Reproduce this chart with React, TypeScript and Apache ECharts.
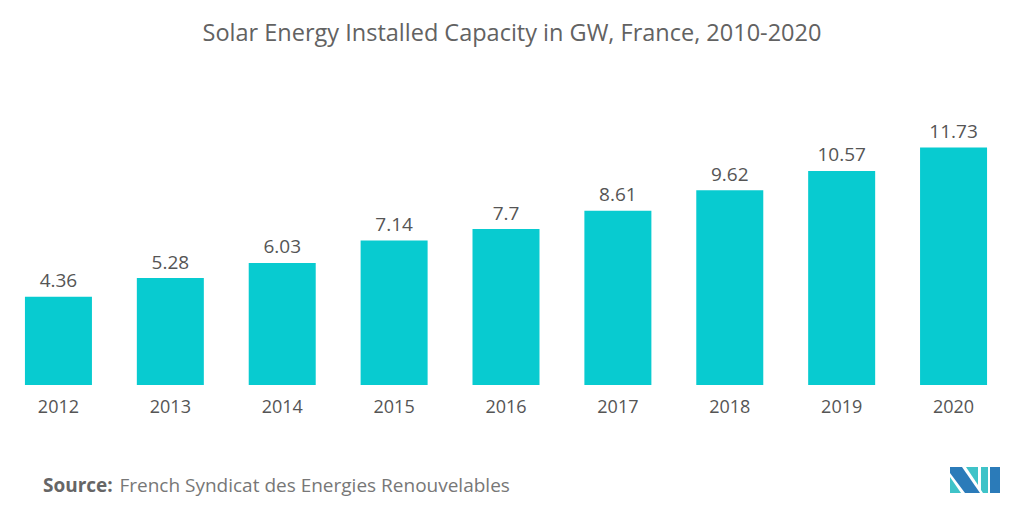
import React, { useEffect, useRef } from "react";
import * as echarts from "echarts";

const categories = ["2012", "2013", "2014", "2015", "2016", "2017", "2018", "2019", "2020"];
const capacityGW = [4.36, 5.28, 6.03, 7.14, 7.7, 8.61, 9.62, 10.57, 11.73];

const FONT = "'Open Sans', 'Noto Sans', sans-serif";

export default function App() {
  const ref = useRef<HTMLDivElement>(null);
  useEffect(() => {
    document.body.style.margin = "0";
    if (!ref.current) return;
    const chart = echarts.init(ref.current, undefined, { renderer: "svg" });
    chart.setOption({
      animation: false,
      backgroundColor: "#ffffff",
      title: {
        text: "Solar Energy Installed Capacity in GW, France, 2010-2020",
        left: "center",
        top: 15,
        textStyle: { color: "#626262", fontSize: 23.5, fontWeight: "normal", fontFamily: FONT },
      },
      grid: { left: 2.5, right: 14.5, top: 142, bottom: 131 },
      xAxis: {
        type: "category",
        data: categories,
        axisLine: { show: false },
        axisTick: { show: false },
        axisLabel: { color: "#555555", fontSize: 18, margin: 12, fontFamily: FONT },
      },
      yAxis: {
        type: "value",
        min: 0,
        max: 12,
        show: false,
        splitLine: { show: false },
      },
      series: [
        {
          type: "bar",
          data: capacityGW,
          barWidth: 67,
          itemStyle: { color: "#08CBD0" },
          label: {
            show: true,
            position: "top",
            distance: 7,
            color: "#555555",
            fontSize: 19,
            fontFamily: FONT,
          },
        },
      ],
      graphic: [
        {
          type: "text",
          left: 43,
          top: 475,
          style: {
            text: "{b|Source:}  {n|French Syndicat des Energies Renouvelables}",
            rich: {
              b: { fontSize: 19, fontWeight: "bold", fill: "#666666", fontFamily: FONT },
              n: { fontSize: 19, fill: "#777777", fontFamily: FONT },
            },
          },
        },
        {
          type: "group",
          left: 950,
          top: 467,
          children: [
            { type: "polygon", shape: { points: [[0, 10], [0, 26], [11, 26]] }, style: { fill: "#3FC3C8" } },
            { type: "polygon", shape: { points: [[0, 0], [12, 0], [30, 26], [15, 26], [0, 6]] }, style: { fill: "#2B7BB9" } },
            { type: "polygon", shape: { points: [[16, 0], [28, 0], [28, 18]] }, style: { fill: "#3FC3C8" } },
            { type: "polygon", shape: { points: [[31, 0], [38, 0], [38, 26], [33, 26], [31, 23]] }, style: { fill: "#3FC3C8" } },
            { type: "polygon", shape: { points: [[40, 0], [50, 0], [50, 26], [40, 26]] }, style: { fill: "#2B7BB9" } },
          ],
        },
      ],
    });
    return () => chart.dispose();
  }, []);
  return <div ref={ref} style={{ width: 1024, height: 516 }} />;
}
